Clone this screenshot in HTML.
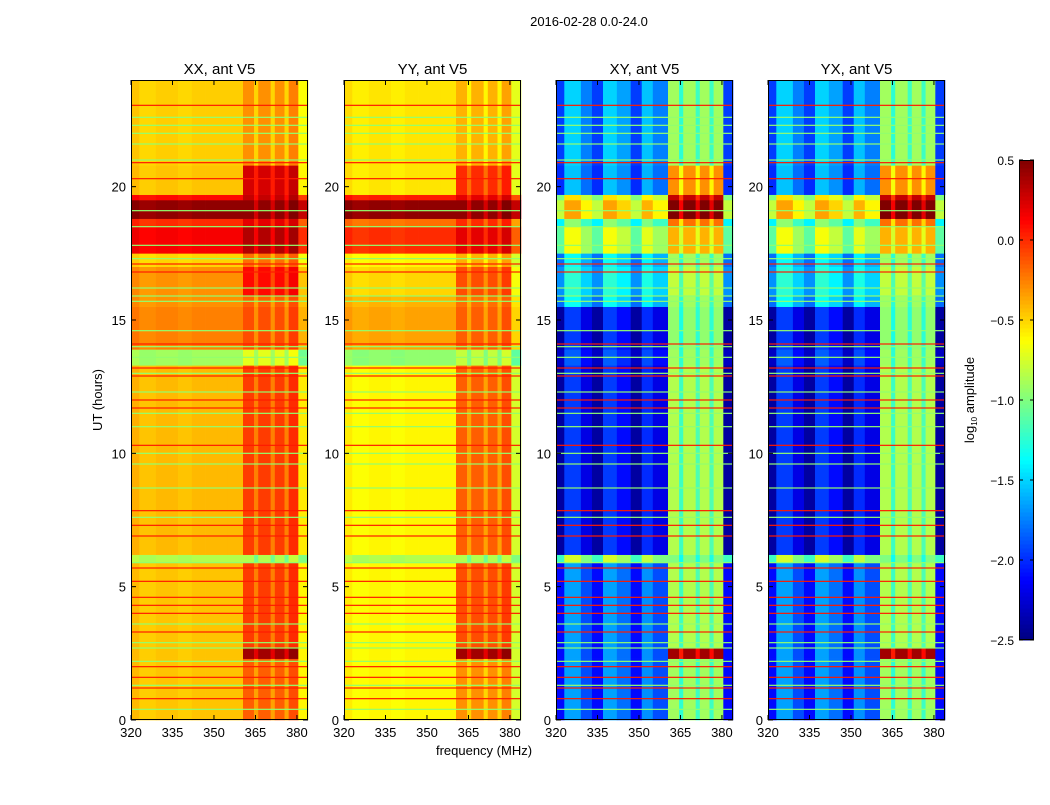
<!DOCTYPE html>
<html><head><meta charset="utf-8"><style>
body{margin:0;background:#fff;width:1050px;height:800px;overflow:hidden;font-family:"Liberation Sans",sans-serif}
svg text{font-family:"Liberation Sans","DejaVu Sans",sans-serif}
</style></head><body>
<svg id="chart" width="1050" height="800" xmlns="http://www.w3.org/2000/svg">
<text x="589" y="26" font-size="13" text-anchor="middle">2016-02-28 0.0-24.0</text>
<text x="484" y="755" font-size="13" text-anchor="middle">frequency (MHz)</text>
<text transform="translate(102,400) rotate(-90)" font-size="13" text-anchor="middle">UT (hours)</text>
<text transform="translate(974,400) rotate(-90)" font-size="13" text-anchor="middle">log<tspan font-size="8" dy="3">10</tspan><tspan dy="-3"> amplitude</tspan></text>
<g id="panels"></g>
<g id="cbar"></g>
</svg>
<script>
// frequency bins (MHz edges)
const freqEdges=[320,323,329,333,337,342,347,351,355,360.5,364.5,366,370.5,372,375.5,377,380.5,384];
const binIsRfi=[0,0,0,0,0,0,0,0,0,1,1,1,1,1,1,1,0];
const offAuto=[0.03,-0.03,0,0,-0.03,0,0,0,0,0,-0.2,0,-0.2,0,-0.2,0.05,-0.15];
const offCross=[-0.2,0.25,0,-0.2,0.25,0.1,-0.2,0.2,0,0,-0.35,0,-0.3,0,-0.3,0,-0.2];
// time bands (hours)
const rowEdges=[0,2.3,2.7,5.9,6.2,13.3,13.9,15.5,15.9,17.0,17.5,18.5,18.8,19.5,19.7,20.8,24];
const baseXX=[-0.45,-0.45,-0.45,-0.85,-0.42,-0.9,-0.25,-0.3,-0.3,-0.5,0.15,0.0,0.45,0.1,-0.45,-0.48];
const rfiXX=[-0.15,0.4,-0.05,-0.85,-0.05,-0.7,-0.1,-0.15,0.1,-0.2,0.35,0.2,0.45,0.3,0.25,-0.3];
const baseYY=[-0.6,-0.6,-0.6,-0.85,-0.6,-0.95,-0.35,-0.4,-0.5,-0.6,0.0,-0.2,0.45,0.05,-0.55,-0.55];
const rfiYY=[-0.3,0.4,-0.1,-0.85,-0.15,-0.8,-0.15,-0.2,-0.1,-0.4,0.2,0.0,0.45,0.2,0.0,-0.4];
const baseXY=[-1.9,-1.9,-1.9,-1.0,-2.2,-2.1,-2.2,-1.6,-1.5,-1.6,-0.9,-1.2,-0.6,-0.8,-1.8,-1.75];
const rfiXY=[-0.9,0.4,-0.85,-1.0,-0.85,-0.9,-0.95,-0.9,-0.8,-0.9,-0.4,-0.2,0.5,0.3,-0.3,-0.9];
const baseYX=[-1.9,-1.9,-1.9,-1.0,-2.2,-2.1,-2.2,-1.6,-1.5,-1.6,-0.9,-1.2,-0.6,-0.8,-1.8,-1.75];
const rfiYX=[-0.9,0.4,-0.85,-1.0,-0.85,-0.9,-0.95,-0.9,-0.8,-0.9,-0.4,-0.2,0.5,0.3,-0.3,-0.9];
// flagged lines
const redHours=[23.05,20.9,20.3,17.1,16.8,14.1,13.2,12.9,12.0,11.7,10.3,7.85,7.3,6.9,5.7,5.2,4.6,4.3,4.0,3.3,2.0,1.6,1.2,0.8];
const greenHours=[22.6,22.3,22.0,21.6,21.0,19.1,18.5,17.8,17.3,16.2,15.9,15.7,14.6,14.0,13.6,13.0,12.3,11.5,11.0,10.0,9.6,8.7,7.6,5.9,3.6,2.9,2.7,2.2,1.3,0.4];
const redVal=0.05, greenVal=-0.95;
const xTicks=[320,335,350,365,380];
const yTicks=[0,5,10,15,20];
const cbTicks=[0.5,0.0,-0.5,-1.0,-1.5,-2.0,-2.5];
const panelTitles=["XX, ant V5","YY, ant V5","XY, ant V5","YX, ant V5"];
const panelLefts=[131,344,556,768];
const PW=177,PT=80,PB=720,VMIN=-2.5,VMAX=0.5;
const NS="http://www.w3.org/2000/svg";
function jet(v){let t=(v-VMIN)/(VMAX-VMIN);t=Math.max(0,Math.min(1,t));
 const c=x=>Math.max(0,Math.min(1,x));
 const r=c(1.5-Math.abs(4*t-3)),g=c(1.5-Math.abs(4*t-2)),b=c(1.5-Math.abs(4*t-1));
 return `rgb(${Math.round(r*255)},${Math.round(g*255)},${Math.round(b*255)})`;}
function el(tag,attrs,parent){const e=document.createElementNS(NS,tag);for(const k in attrs)e.setAttribute(k,attrs[k]);parent.appendChild(e);return e;}
const yS=h=>PB-(h/24)*(PB-PT);
const fmt=v=>(v<0?"\u2212":"")+Math.abs(v).toFixed(1);
const panelsG=document.getElementById('panels');
const sets=[[baseXX,rfiXX,offAuto],[baseYY,rfiYY,offAuto],[baseXY,rfiXY,offCross],[baseYX,rfiYX,offCross]];
sets.forEach((s,p)=>{
 const L=panelLefts[p];const xS=f=>L+(f-320)/(384-320)*PW;
 const g=el('g',{},panelsG);
 
 
 const [base,rfi,off]=s;
 for(let r=0;r<rowEdges.length-1;r++){
  for(let b=0;b<freqEdges.length-1;b++){
   const v=(binIsRfi[b]?rfi[r]:base[r])+off[b];
   const x0=xS(freqEdges[b]),x1=xS(freqEdges[b+1]),y0=yS(rowEdges[r+1]),y1=yS(rowEdges[r]);
   const c=el('rect',{x:x0,y:y0,width:x1-x0+0.3,height:y1-y0+0.3,fill:jet(v)},g);
   
   
  }
 }
 const lh=1.2;
 redHours.forEach(h=>{const ln=el('rect',{x:L,y:yS(h)-lh/2,width:PW,height:lh,fill:jet(redVal)},g);
  });
 greenHours.forEach(h=>{const ln=el('rect',{x:L,y:yS(h)-lh/2,width:PW,height:lh,fill:jet(greenVal)},g);
  });
 const fr=el('rect',{x:L+0.5,y:PT+0.5,width:PW-1,height:PB-PT-1,fill:'none',stroke:'#000','stroke-width':1},g);
 
 xTicks.forEach(t=>{const x=xS(t);
  el('line',{x1:x,x2:x,y1:PB,y2:PB-5,stroke:'#000'},g);el('line',{x1:x,x2:x,y1:PT,y2:PT+5,stroke:'#000'},g);
  const tx=el('text',{x:x,y:PB+17,'font-size':13,'text-anchor':'middle'},g);tx.textContent=t;
  });
 yTicks.forEach(t=>{const y=yS(t);
  el('line',{x1:L,x2:L+5,y1:y,y2:y,stroke:'#000'},g);el('line',{x1:L+PW,x2:L+PW-5,y1:y,y2:y,stroke:'#000'},g);
  const tx=el('text',{x:L-5,y:y+5,'font-size':13,'text-anchor':'end'},g);tx.textContent=t;
  });
 const tt=el('text',{x:L+PW/2,y:74,'font-size':15,'text-anchor':'middle'},g);tt.textContent=panelTitles[p];
 
});
// colorbar
const cb=document.getElementById('cbar');const CX=1019,CW=15,CT=160,CB=640;
const cyS=v=>CB-(v-VMIN)/(VMAX-VMIN)*(CB-CT);
for(let i=0;i<120;i++){const v0=VMIN+i*(VMAX-VMIN)/120,v1=VMIN+(i+1)*(VMAX-VMIN)/120;
 el('rect',{x:CX,y:cyS(v1),width:CW,height:cyS(v0)-cyS(v1)+0.5,fill:jet((v0+v1)/2)},cb);}
el('rect',{x:CX+0.5,y:CT+0.5,width:CW-1,height:CB-CT-1,fill:'none',stroke:'#000'},cb);
cbTicks.forEach(t=>{const y=cyS(t);
 el('line',{x1:CX,x2:CX+4,y1:y,y2:y,stroke:'#000'},cb);el('line',{x1:CX+CW,x2:CX+CW-4,y1:y,y2:y,stroke:'#000'},cb);
 const tx=el('text',{x:CX-5,y:y+5,'font-size':12,'text-anchor':'end'},cb);tx.textContent=fmt(t);
 });
</script>
</body></html>
